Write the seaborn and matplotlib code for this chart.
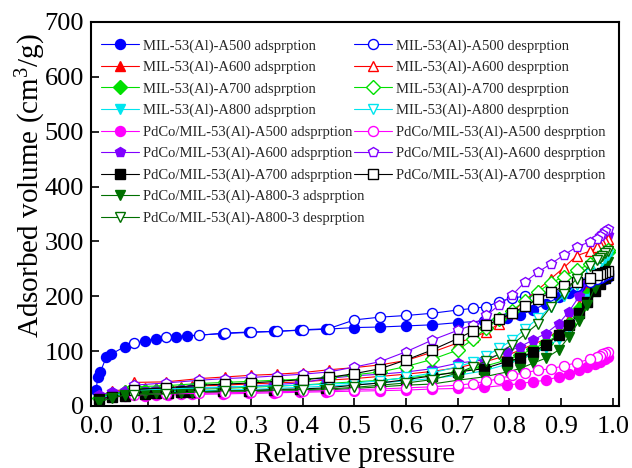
import matplotlib
matplotlib.use("Agg")
import matplotlib.pyplot as plt
from matplotlib.lines import Line2D
import seaborn as sns

sns.set_theme(style="ticks")
plt.rcParams['font.family'] = ['Liberation Serif', 'DejaVu Serif']
plt.rcParams['mathtext.fontset'] = 'custom'
plt.rcParams['mathtext.rm'] = 'Liberation Serif'
plt.rcParams['mathtext.it'] = 'Liberation Serif:italic'

# ---------------- data ----------------
sample_names = ["MIL-53(Al)-A500", "MIL-53(Al)-A600", "MIL-53(Al)-A700", "MIL-53(Al)-A800",
                "PdCo/MIL-53(Al)-A500", "PdCo/MIL-53(Al)-A600", "PdCo/MIL-53(Al)-A700",
                "PdCo/MIL-53(Al)-A800-3"]
sample_colors = ["#0000FF", "#FF0000", "#00E000", "#00E5EE", "#FF00FF", "#8000FF", "#000000", "#007000"]
sample_markers = ["o", "^", "D", "v", "o", "p", "s", "v"]

x_ads_a500 = [0.0, 0.003, 0.008, 0.02, 0.028, 0.055, 0.095, 0.115, 0.155, 0.175, 0.245, 0.295,
              0.345, 0.395, 0.445, 0.5, 0.55, 0.6, 0.65, 0.7, 0.75, 0.795, 0.82, 0.845, 0.87,
              0.895, 0.915, 0.935, 0.95, 0.965, 0.975, 0.985, 0.99]
x_ads = [0.005, 0.03, 0.055, 0.095, 0.115, 0.14, 0.165, 0.185, 0.245, 0.295, 0.345, 0.395, 0.445,
         0.5, 0.55, 0.6, 0.65, 0.7, 0.75, 0.795, 0.82, 0.845, 0.87, 0.895, 0.915, 0.935, 0.95,
         0.965, 0.975, 0.985, 0.99]
x_des = [0.99, 0.985, 0.98, 0.975, 0.97, 0.955, 0.93, 0.905, 0.88, 0.855, 0.83, 0.805, 0.78,
         0.755, 0.73, 0.7, 0.65, 0.6, 0.55, 0.5, 0.45, 0.4, 0.35, 0.3, 0.25, 0.2, 0.135, 0.073]

ads_mil_a500 = [29, 53, 62, 90, 94, 108, 119, 122, 126, 128, 132, 134, 136, 138, 140, 143, 144, 146,
                148, 152, 155, 160, 166, 175, 186, 198, 206, 213, 219, 224, 228, 232, 235]
des_mil_a500 = [240, 238, 236, 233, 231, 226, 218, 212, 207, 203, 200, 197, 190, 181, 178, 175, 169,
                165, 162, 157, 141, 139, 136, 135, 133, 129, 125, 114]

ads_mil_a600 = [18, 27, 30, 32, 33, 34, 35, 36, 38, 40, 42, 44, 47, 50, 54, 58, 63, 70, 80, 92, 102,
                112, 122, 138, 158, 185, 212, 240, 262, 285, 298]
des_mil_a600 = [305, 301, 297, 293, 289, 282, 274, 252, 232, 212, 193, 170, 150, 135, 125, 115, 98,
                83, 75, 70, 66, 61, 58, 56, 53, 50, 44, 43]

ads_mil_a700 = [15, 22, 25, 27, 28, 29, 29, 30, 32, 34, 36, 38, 41, 44, 47, 51, 56, 62, 72, 84, 93,
                104, 115, 130, 150, 176, 203, 230, 250, 270, 280]
des_mil_a700 = [284, 280, 276, 270, 266, 258, 248, 236, 224, 208, 192, 174, 158, 142, 122, 102, 85,
                72, 62, 57, 52, 49, 47, 45, 43, 41, 37, 35]

ads_mil_a800 = [13, 20, 22, 24, 25, 26, 26, 27, 29, 30, 32, 34, 36, 39, 42, 46, 50, 56, 64, 76, 85,
                95, 106, 122, 142, 168, 195, 225, 245, 265, 272]
des_mil_a800 = [275, 270, 265, 258, 252, 240, 220, 200, 180, 160, 140, 120, 105, 92, 80, 72, 60, 52,
                46, 42, 40, 38, 37, 36, 35, 33, 31, 29]

ads_pdco_a500 = [12, 16, 18, 19, 20, 20, 21, 21, 22, 23, 24, 25, 26, 27, 28, 29, 31, 32, 34, 38, 41,
                 44, 47, 53, 59, 65, 71, 76, 80, 86, 89]
des_pdco_a500 = [99, 96, 94, 92, 90, 85, 79, 73, 68, 65, 61, 56, 50, 45, 41, 38, 35, 33, 31, 30, 28,
                 27, 26, 25, 24, 23, 22, 20]

ads_pdco_a600 = [20, 25, 27, 28, 29, 30, 31, 32, 34, 36, 39, 42, 50, 55, 58, 62, 68, 78, 84, 99, 108,
                 120, 132, 150, 172, 200, 228, 258, 280, 300, 312]
des_pdco_a600 = [323, 319, 314, 309, 305, 299, 290, 275, 259, 244, 226, 202, 184, 165, 148, 138, 120,
                 99, 81, 71, 62, 58, 55, 52, 50, 47, 42, 38]

ads_pdco_a700 = [12, 17, 18, 22, 23, 24, 25, 25, 27, 28, 30, 31, 33, 38, 42, 48, 55, 62, 68, 81, 87,
                 99, 111, 129, 147, 170, 190, 210, 222, 233, 238]
des_pdco_a700 = [247, 245, 243, 241, 239, 234, 226, 218, 207, 195, 182, 169, 158, 147, 137, 123, 102,
                 84, 68, 59, 52, 48, 45, 42, 40, 38, 33, 30]

ads_pdco_a800 = [8, 14, 20, 23, 23, 24, 24, 24, 25, 26, 27, 28, 29, 32, 35, 38, 40, 47, 53, 62, 68,
                 78, 87, 102, 126, 155, 185, 215, 238, 255, 262]
des_pdco_a800 = [282, 278, 274, 270, 266, 255, 232, 205, 181, 150, 131, 112, 95, 82, 72, 60, 48, 42,
                 38, 34, 31, 30, 29, 28, 28, 26, 22, 20]

x_ticks = [0.0, 0.1, 0.2, 0.3, 0.4, 0.5, 0.6, 0.7, 0.8, 0.9, 1.0]
y_ticks = [0, 100, 200, 300, 400, 500, 600, 700]

ads_list = [ads_mil_a500, ads_mil_a600, ads_mil_a700, ads_mil_a800,
            ads_pdco_a500, ads_pdco_a600, ads_pdco_a700, ads_pdco_a800]
des_list = [des_mil_a500, des_mil_a600, des_mil_a700, des_mil_a800,
            des_pdco_a500, des_pdco_a600, des_pdco_a700, des_pdco_a800]

# ---------------- figure ----------------
fig = plt.figure(figsize=(6.32, 4.68), dpi=100)
ax = fig.add_axes([91 / 632, 1 - 406 / 468, 528 / 632, 384 / 468])

ms = 7.2
ads_handles = []
des_handles = []
for i in range(8):
    xa = x_ads_a500 if i == 0 else x_ads
    sns.lineplot(x=xa, y=ads_list[i], ax=ax, color=sample_colors[i], marker=sample_markers[i],
                 markersize=ms, markerfacecolor=sample_colors[i], markeredgecolor=sample_colors[i],
                 markeredgewidth=1.0, linewidth=0.8, estimator=None, sort=False, legend=False)
    ads_handles.append(ax.lines[-1])
for i in range(8):
    sns.lineplot(x=x_des, y=des_list[i], ax=ax, color=sample_colors[i], marker=sample_markers[i],
                 markersize=ms, markerfacecolor="white", markeredgecolor=sample_colors[i],
                 markeredgewidth=1.0, linewidth=0.8, estimator=None, sort=False, legend=False)
    des_handles.append(ax.lines[-1])

ax.set_xlim(-0.01, 1.012)
ax.set_ylim(0, 700)
ax.set_xticks(x_ticks)
ax.set_xticklabels([f"{v:.1f}" for v in x_ticks])
ax.set_yticks(y_ticks)
ax.tick_params(direction="in", length=6, width=1.2, labelsize=19, colors="black",
               top=False, right=False)
ax.tick_params(axis="x", pad=7)
ax.tick_params(axis="y", pad=5)
for s in ax.spines.values():
    s.set_linewidth(1.5)
    s.set_color("black")
ax.set_xlabel("Relative pressure", fontsize=21, color="black", labelpad=3)
ax.set_ylabel("Adsorbed volume (cm$^{3}$/g)", fontsize=21, color="black")
ax.yaxis.set_label_coords(-0.081, 0.575)

handles = ads_handles + [des_handles[7]] + des_handles[:7] + [Line2D([], [], linestyle="none")]
labels = [n + " adsprption" for n in sample_names] + [sample_names[7] + " desprption"] + \
         [n + " desprption" for n in sample_names[:7]] + [""]
ax.legend(handles, labels, loc="upper left", bbox_to_anchor=(0.019, 0.955), ncol=2,
          frameon=False, fontsize=10.5, labelspacing=0.55, handlelength=2.6, handletextpad=0.3,
          columnspacing=-0.75, borderpad=0, borderaxespad=0, numpoints=1)

fig.savefig("out.png", dpi=100)
